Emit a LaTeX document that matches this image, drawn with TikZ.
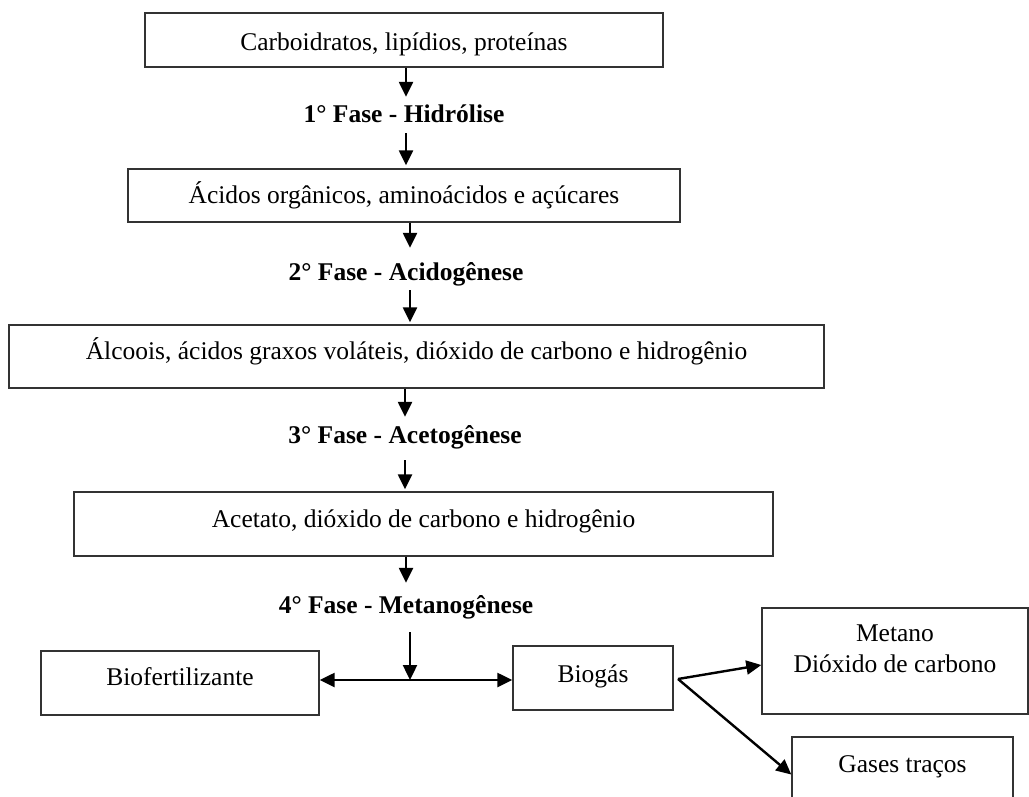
\documentclass[tikz,border=0pt]{standalone}
\usepackage{fontspec}
\setmainfont{Liberation Serif}
\usetikzlibrary{arrows.meta}
\begin{document}
\begin{tikzpicture}[x=1pt,y=-1pt,
  box/.style={draw=black!80, line width=1.4pt, inner sep=0pt, fill=white,
    font=\fontsize{25.5}{32}\selectfont},
  phase/.style={inner sep=0pt, anchor=base, text height=18pt, text depth=5pt,
    font=\fontsize{25.5}{32}\selectfont\bfseries},
  tip/.style={Triangle[length=15pt,width=14pt]},
  arr/.style={line width=2.4pt, -{Triangle[length=15pt,width=14pt]}},
  darr/.style={line width=2.4pt, {Triangle[length=15pt,width=14pt]}-{Triangle[length=15pt,width=14pt]}}
]
\useasboundingbox (0,0) rectangle (1029,796);
% boxes
\node[box, minimum width=518pt, minimum height=54pt, text height=20pt, text depth=0pt] (b1) at (404,40) {Carboidratos, lipídios, proteínas};
\node[box, minimum width=552pt, minimum height=53pt, text height=18pt, text depth=3pt] (b2) at (404,195.5) {Ácidos orgânicos, aminoácidos e açúcares};
\node[box, minimum width=815pt, minimum height=63pt, text height=14pt, text depth=9pt] (b3) at (416.5,356.5) {Álcoois, ácidos graxos voláteis, dióxido de carbono e hidrogênio};
\node[box, minimum width=699pt, minimum height=64pt, text height=12pt, text depth=6pt] (b4) at (423.5,524) {Acetato, dióxido de carbono e hidrogênio};
\node[box, minimum width=278pt, minimum height=64pt, text height=10pt, text depth=6pt] (bio) at (180,683) {Biofertilizante};
\node[box, minimum width=160pt, minimum height=64pt, text height=12pt, text depth=4pt] (gas) at (593,678) {Biogás};
\node[box, minimum width=266pt, minimum height=106pt,
  label={[name=metT, inner sep=0pt, align=center, yshift=12pt, font=\fontsize{25.5}{31}\selectfont]center:Metano\\Dióxido de carbono}] (met) at (895,661) {};
\node[box, minimum width=221pt, minimum height=63pt, text height=12pt, text depth=5pt] (gt) at (902.5,768.5) {Gases traços};
% phase labels
\node[phase] (l1) at (404,122) {1° Fase - Hidrólise};
\node[phase] (l2) at (406,280) {2° Fase - Acidogênese};
\node[phase] (l3) at (405,443) {3° Fase - Acetogênese};
\node[phase] (l4) at (406,613) {4° Fase - Metanogênese};
% coordinates
\coordinate (j) at (410,680);
\coordinate (f) at (678,679);
% arrows
\draw[arr, shorten >=7pt] ([xshift=2pt]b1.south) -- ([xshift=2pt]l1.north);
\draw[arr, shorten <=6pt, shorten >=3pt] ([xshift=2pt]l1.south) -- ([xshift=2pt]b2.north);
\draw[arr, shorten >=14pt] ([xshift=4pt]l2.north |- b2.south) -- ([xshift=4pt]l2.north);
\draw[arr, shorten <=5pt, shorten >=2pt] ([xshift=4pt]l2.south) -- ([xshift=4pt]l2.south |- b3.north);
\draw[arr, shorten >=8pt] (l3.north |- b3.south) -- (l3.north);
\draw[arr, shorten <=12pt, shorten >=2pt] (l3.south) -- (l3.south |- b4.north);
\draw[arr, shorten >=12pt] (l4.north |- b4.south) -- (l4.north);
\draw[arr, shorten <=14pt] (l4.south -| j) -- (j);
\draw[darr] (bio.east |- j) -- (gas.west |- j);
\draw[arr] (f) -- ([yshift=-4pt]met.west);
\draw[arr] (f) -- ([yshift=-6pt]gt.west);
\end{tikzpicture}
\end{document}
